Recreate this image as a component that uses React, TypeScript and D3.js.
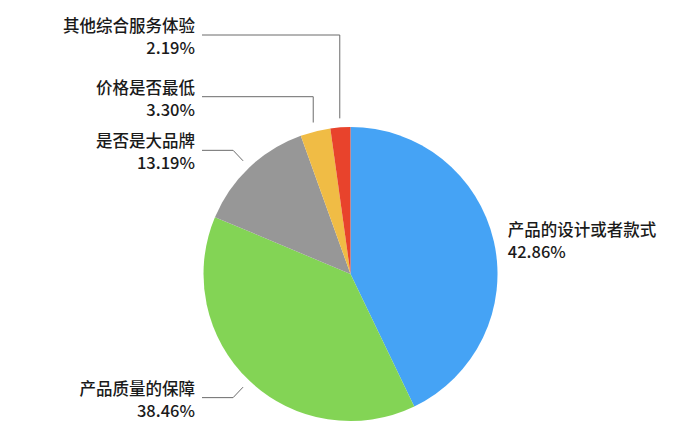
import React from "react";
import * as d3 from "d3";

const categories = ["产品的设计或者款式", "产品质量的保障", "是否是大品牌", "价格是否最低", "其他综合服务体验"];
const values = [42.86, 38.46, 13.19, 3.3, 2.19];
const valueLabels = ["42.86%", "38.46%", "13.19%", "3.30%", "2.19%"];
const colors = ["#45a3f5", "#83d455", "#979797", "#f0bc45", "#e8432c"];

// layout
const W = 700;
const H = 448;
const cx = 350.5;
const cy = 274;
const R = 147;
const labelRightX = 195;
const leaderEndX = 202;
// leader style per slice: "none" | "radial" | "vertical" (with target y)
const leaderMode = ["none", "radial", "radial", "vertical", "vertical"];
const verticalTargetY = [0, 0, 0, 96.7, 35];

export default function App() {
  const pie = d3.pie<number>().sort(null).value((d) => d)(values);
  const arc = d3.arc<d3.PieArcDatum<number>>().innerRadius(0).outerRadius(R);
  const font = "'PingFang SC', 'Noto Sans CJK SC', 'Noto Sans', sans-serif";
  const fs = 16.5;

  const pt = (a: number, r: number) => [cx + r * Math.sin(a), cy - r * Math.cos(a)];

  return (
    <svg width={W} height={H} style={{ position: "absolute", left: 0, top: 0 }}>
      <rect width={W} height={H} fill="#fff" />
      <g transform={`translate(${cx},${cy})`}>
        {pie.map((p, i) => (
          <path key={i} d={arc(p) || ""} fill={colors[i]} />
        ))}
      </g>
      {pie.map((p, i) => {
        const mid = (p.startAngle + p.endAngle) / 2;
        const mode = leaderMode[i];
        if (mode === "none") {
          const [x, y] = pt(mid, R);
          return (
            <g key={i} fontFamily={font} fontSize={fs} fill="#1a1a1a" fontWeight={500}>
              <text x={x + 14} y={y - 5}>{categories[i]}</text>
              <text x={x + 14} y={y + 17}>{valueLabels[i]}</text>
            </g>
          );
        }
        const [x0, y0] = pt(mid, R + 9);
        let pts: [number, number][];
        let ly: number;
        if (mode === "radial") {
          const [x1, y1] = pt(mid, R + 23.5);
          ly = y1;
          pts = [[x0, y0], [x1, y1], [leaderEndX, y1]];
        } else {
          ly = verticalTargetY[i];
          pts = [[x0, y0], [x0, ly], [leaderEndX, ly]];
        }
        const line = d3.line()(pts) || "";
        return (
          <g key={i}>
            <path d={line} fill="none" stroke="#6b6b6b" strokeWidth={1} />
            <g fontFamily={font} fontSize={fs} fill="#1a1a1a" fontWeight={500} textAnchor="end">
              <text x={labelRightX} y={ly - 3}>{categories[i]}</text>
              <text x={labelRightX} y={ly + 19}>{valueLabels[i]}</text>
            </g>
          </g>
        );
      })}
    </svg>
  );
}
